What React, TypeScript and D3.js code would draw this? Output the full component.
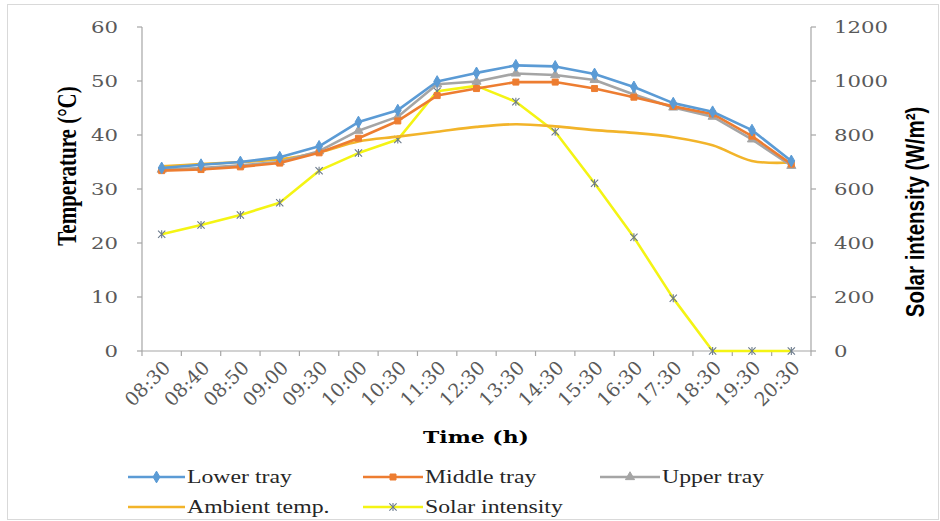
import React from 'react';
import * as d3 from 'd3';

// time of day (categories)
const times = [
  '08:30', '08:40', '08:50', '09:00', '09:30', '10:00', '10:30', '11:30', '12:30',
  '13:30', '14:30', '15:30', '16:30', '17:30', '18:30', '19:30', '20:30',
];

// temperatures (°C), left axis
const lowerTray = [33.9, 34.5, 35.0, 35.9, 37.9, 42.4, 44.6, 49.9, 51.5, 52.9, 52.7, 51.3, 48.9, 45.9, 44.3, 40.9, 35.2];
const middleTray = [33.4, 33.6, 34.1, 34.8, 36.7, 39.4, 42.6, 47.3, 48.6, 49.8, 49.8, 48.6, 47.0, 45.3, 43.9, 39.8, 34.6];
const upperTray = [33.6, 33.9, 34.4, 35.0, 37.0, 40.8, 43.4, 49.4, 49.9, 51.4, 51.1, 50.2, 47.5, 45.1, 43.4, 39.2, 34.3];
const ambientTemp = [34.2, 34.6, 35.0, 35.5, 36.8, 38.8, 39.7, 40.6, 41.5, 42.0, 41.6, 40.9, 40.4, 39.6, 38.1, 35.2, 34.9];

// solar intensity (W/m²), right axis
const solarIntensity = [432, 467, 504, 549, 668, 733, 783, 962, 982, 923, 812, 621, 421, 195, 0, 0, 0];

const tempTicks = [0, 10, 20, 30, 40, 50, 60];
const solarTicks = [0, 200, 400, 600, 800, 1000, 1200];

const W = 940;
const H = 521;
const left = 142;
const right = 811;
const top = 27;
const bottom = 351;
const SX = 1.25; // the source picture is stretched horizontally

const axisColor = '#a6a6a6';
const tickFont = '"DejaVu Serif", serif';
const legendFont = '"Liberation Serif", "Times New Roman", serif';

type Marker = 'diamond' | 'square' | 'triangle' | 'none' | 'star';

const series: { name: string; values: number[]; color: string; marker: Marker; axis: 'T' | 'S'; smooth?: boolean }[] = [
  { name: 'Solar intensity', values: solarIntensity, color: '#f4f414', marker: 'star', axis: 'S' },
  { name: 'Ambient temp.', values: ambientTemp, color: '#f2b42a', marker: 'none', axis: 'T', smooth: true },
  { name: 'Upper tray', values: upperTray, color: '#a5a5a5', marker: 'triangle', axis: 'T' },
  { name: 'Middle tray', values: middleTray, color: '#ed7d31', marker: 'square', axis: 'T' },
  { name: 'Lower tray', values: lowerTray, color: '#5b9bd5', marker: 'diamond', axis: 'T' },
];

const legendOrder = ['Lower tray', 'Middle tray', 'Upper tray', 'Ambient temp.', 'Solar intensity'];

function MarkerShape({ kind, color, cx, cy }: { kind: Marker; color: string; cx: number; cy: number }) {
  if (kind === 'none') return null;
  if (kind === 'star') {
    const p = d3.symbol(d3.symbolTimes, 36)() as string;
    return (
      <g transform={`translate(${cx},${cy})`} stroke="#6b7a8c" strokeWidth={1.1} fill="none">
        <path d={p} />
        <line x1={0} x2={0} y1={-4} y2={4} />
      </g>
    );
  }
  const type = kind === 'diamond' ? d3.symbolDiamond : kind === 'square' ? d3.symbolSquare : d3.symbolTriangle;
  const size = kind === 'diamond' ? 40 : kind === 'square' ? 36 : 36;
  const p = d3.symbol(type, size)() as string;
  return <path d={p} transform={`translate(${cx},${cy})`} fill={color} stroke={color} strokeWidth={1} />;
}

export default function App() {
  const x = d3.scaleBand<string>().domain(times).range([left, right]);
  const yT = d3.scaleLinear().domain([0, 60]).range([bottom, top]);
  const yS = d3.scaleLinear().domain([0, 1200]).range([bottom, top]);
  const cx = (t: string) => (x(t) as number) + x.bandwidth() / 2;

  const legendPos: Record<string, [number, number]> = {
    'Lower tray': [128, 477],
    'Middle tray': [363, 477],
    'Upper tray': [600, 477],
    'Ambient temp.': [128, 507],
    'Solar intensity': [363, 507],
  };

  return (
    <svg width={W} height={H} style={{ position: 'absolute', left: 0, top: 0, background: '#fff' }}>
      <rect x={7.5} y={4.5} width={931} height={515} fill="#fff" stroke="#d9d9d9" />

      {/* axes */}
      <g stroke={axisColor} strokeWidth={1.2} fill="none">
        <line x1={left} x2={left} y1={top} y2={bottom} />
        <line x1={right} x2={right} y1={top} y2={bottom} />
        <line x1={left} x2={right} y1={bottom} y2={bottom} />
        {tempTicks.map((t) => (
          <line key={`lt${t}`} x1={left - 5} x2={left} y1={yT(t)} y2={yT(t)} />
        ))}
        {solarTicks.map((t) => (
          <line key={`rt${t}`} x1={right} x2={right + 5} y1={yS(t)} y2={yS(t)} />
        ))}
        {times.map((t) => (
          <line key={`xt${t}`} x1={x(t)} x2={x(t)} y1={bottom} y2={bottom + 5} />
        ))}
        <line x1={right} x2={right} y1={bottom} y2={bottom + 5} />
      </g>

      {/* tick labels */}
      <g fontFamily={tickFont} fontSize={17} fill="#595959">
        {tempTicks.map((t) => (
          <text key={`ll${t}`} transform={`translate(${left - 24},${yT(t)}) scale(${SX},1)`} textAnchor="end" dy="0.36em">
            {t}
          </text>
        ))}
        {solarTicks.map((t) => (
          <text key={`rl${t}`} transform={`translate(${right + 23},${yS(t)}) scale(${SX},1)`} textAnchor="start" dy="0.36em">
            {t}
          </text>
        ))}
        {times.map((t) => (
          <text key={`xl${t}`} transform={`translate(${cx(t) + 5},${bottom + 13}) rotate(-45)`} textAnchor="end" dy="0.36em" fontSize={19}>
            {t}
          </text>
        ))}
      </g>

      {/* axis titles */}
      <text transform={`translate(${476},${443}) scale(${SX},1)`} textAnchor="middle" fontFamily={tickFont} fontWeight="bold" fontSize={17.5}>
        Time (h)
      </text>
      <text transform={`translate(${76},${166}) scale(${SX},1) rotate(-90)`} textAnchor="middle" fontFamily={legendFont} fontWeight="bold" fontSize={21}>
        Temperature (°C)
      </text>
      <text transform={`translate(${924},${212}) scale(${SX},1) rotate(-90)`} textAnchor="middle" fontFamily='"Liberation Sans", Arial, sans-serif' fontWeight="bold" fontSize={20.5}>
        Solar intensity (W/m²)
      </text>

      {/* series */}
      {series.map((s) => {
        const y = s.axis === 'T' ? yT : yS;
        const line = d3
          .line<number>()
          .x((_, i) => cx(times[i]))
          .y((v) => y(v))
          .curve(s.smooth ? d3.curveCatmullRom.alpha(0.5) : d3.curveLinear);
        return (
          <g key={s.name}>
            <path d={line(s.values) as string} fill="none" stroke={s.color} strokeWidth={2.6} strokeLinejoin="round" />
            {s.values.map((v, i) => (
              <MarkerShape key={i} kind={s.marker} color={s.color} cx={cx(times[i])} cy={y(v)} />
            ))}
          </g>
        );
      })}

      {/* legend */}
      {legendOrder.map((name) => {
        const s = series.find((d) => d.name === name)!;
        const [lx, ly] = legendPos[name];
        const len = name === 'Lower tray' || name === 'Ambient temp.' ? 57 : 60;
        return (
          <g key={name}>
            <line x1={lx} x2={lx + len} y1={ly} y2={ly} stroke={s.color} strokeWidth={2.6} />
            <MarkerShape kind={s.marker} color={s.color} cx={lx + len / 2} cy={ly} />
            <text transform={`translate(${lx + len + 2},${ly}) scale(${SX},1)`} dy="0.33em" fontFamily={legendFont} fontSize={19} fill="#262626">
              {name}
            </text>
          </g>
        );
      })}
    </svg>
  );
}
